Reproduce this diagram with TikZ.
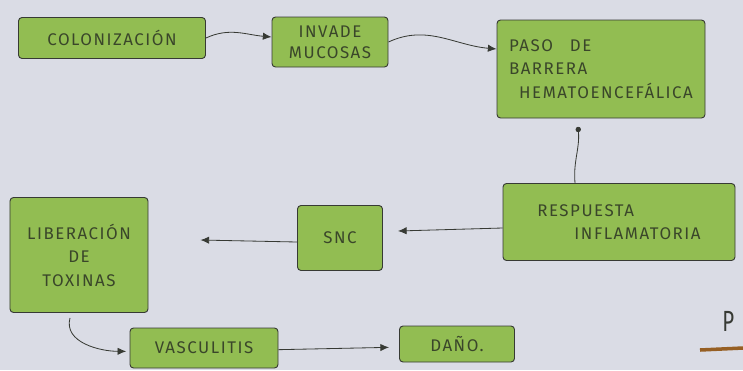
\documentclass[tikz,border=0pt]{standalone}
\usepackage{fontspec}
\setmainfont{Fira Sans}
\usetikzlibrary{arrows.meta,positioning}
\definecolor{paper}{RGB}{218,220,229}
\definecolor{leaf}{RGB}{146,189,82}
\definecolor{pen}{RGB}{55,58,52}
\definecolor{ink}{RGB}{58,70,42}
\definecolor{marker}{RGB}{150,95,35}
\tikzset{
  box/.style={draw=pen, line width=0.8pt, fill=leaf, rounded corners=3pt,
    inner sep=4pt, text=ink, font=\addfontfeature{LetterSpace=9}\Large},
  link/.style={draw=pen, line width=0.7pt, -{Latex[length=2.6mm,width=2.2mm]}}
}
\begin{document}
\begin{tikzpicture}
  \fill[paper] (0,0) rectangle (22.29,-11.1);
  \useasboundingbox (0,0) rectangle (22.29,-11.1);
  % cajas
  \node[box, minimum width=5.61cm, minimum height=1.23cm] (colon) at (3.36,-1.14) {COLONIZACIÓN};
  \node[box, minimum width=3.48cm, minimum height=1.5cm, align=center] (invade) at (9.9,-1.26) {INVADE\\MUCOSAS};
  \node[box, minimum width=6.24cm, minimum height=2.94cm, align=left] (paso) at (18.03,-2.07)
    {PASO\quad DE\\[2pt]BARRERA\\[2pt]\hspace{0.6em}HEMATOENCEFÁLICA};
  \node[box, minimum width=6.96cm, minimum height=2.31cm, align=left] (resp) at (18.57,-6.66)
    {RESPUESTA\\[2pt]\hspace{2.2em}INFLAMATORIA};
  \node[box, minimum width=2.55cm, minimum height=1.95cm] (snc) at (10.2,-7.14) {SNC};
  \node[box, minimum width=4.14cm, minimum height=3.45cm, align=center] (lib) at (2.37,-7.65)
    {LIBERACIÓN\\[2pt]DE\\[2pt]TOXINAS};
  \node[box, minimum width=4.44cm, minimum height=1.2cm] (vasc) at (6.12,-10.44) {VASCULITIS};
  \node[box, minimum width=3.45cm, minimum height=1.08cm] (dano) at (13.71,-10.32) {DAÑO.};
  % flechas
  \draw[link] (colon.east) to[out=25,in=175] ([yshift=0.15cm]invade.west);
  \draw[link] (invade.east) to[out=25,in=175] ([yshift=0.6cm]paso.west);
  \draw[draw=pen, line width=0.7pt, -{Circle[length=1.6mm]}]
    ([xshift=-1.32cm]resp.north) to[out=95,in=-85] ([xshift=-0.69cm,yshift=-0.25cm]paso.south);
  \draw[link] ([yshift=-0.18cm]resp.west) -- ([xshift=0.45cm,yshift=0.21cm]snc.east);
  \draw[link] ([yshift=-0.12cm]snc.west) -- ([xshift=1.56cm,yshift=0.45cm]lib.east);
  \draw[link] ([xshift=-0.27cm,yshift=-0.15cm]lib.south) to[out=-105,in=180] ([xshift=-0.1cm,yshift=-0.1cm]vasc.west);
  \draw[link] ([yshift=-0.05cm]vasc.east) -- ([xshift=-0.3cm,yshift=-0.1cm]dano.west);
  % borde de la hoja
  \node[text=pen, font=\Huge\addfontfeature{FakeStretch=0.7}, anchor=west] (pie) at (21.55,-9.65) {P};
  \draw[marker, line width=3pt] (21.0,-10.5) -- (22.29,-10.44);
\end{tikzpicture}
\end{document}
